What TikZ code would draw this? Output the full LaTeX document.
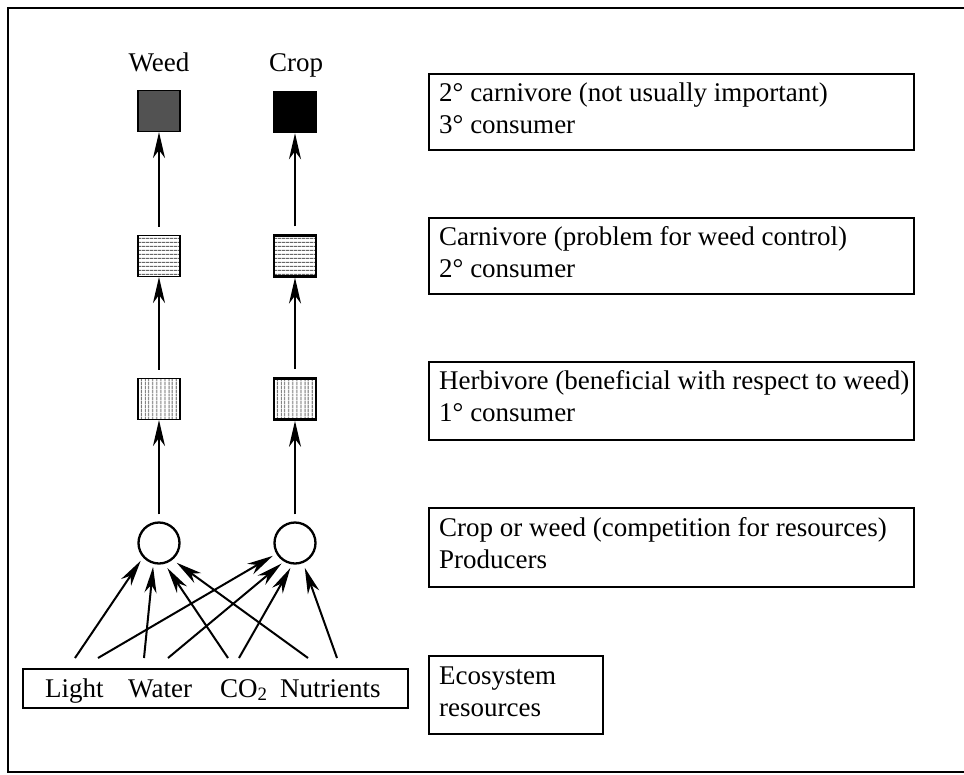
\documentclass[tikz,border=0pt]{standalone}
\usepackage{fontspec}
\setmainfont{Liberation Serif}
\usetikzlibrary{arrows.meta,patterns.meta}
\begin{document}
\begin{tikzpicture}[x=1pt,y=-1pt,
  txt/.style={anchor=base west, inner sep=0pt, font=\fontsize{27}{32}\selectfont},
  rbox/.style={draw, line width=2.3pt, anchor=north west, inner sep=0pt},
  arr/.style={-{Stealth[length=26pt,width=12pt,inset=8pt]}, line width=2pt},
  sq/.style={draw, minimum width=42pt, minimum height=41pt, inner sep=0pt},
  hz/.style={pattern={Lines[angle=0,distance=4pt,line width=1.1pt]}, pattern color=black!60},
  vt/.style={pattern={Lines[angle=90,distance=4pt,line width=1.1pt]}, pattern color=black!60},
  prod/.style={circle, draw, line width=2.3pt, minimum size=41pt, inner sep=0pt}
]
\useasboundingbox (0,0) rectangle (964,774);
% frame
\draw[line width=2pt] (964,8) -- (8,8) -- (8,772) -- (964,772);

% column labels
\node[anchor=base, inner sep=0pt, font=\fontsize{27}{32}\selectfont] (lw) at (159,71) {Weed};
\node[anchor=base, inner sep=0pt, font=\fontsize{27}{32}\selectfont] (lc) at (296,71) {Crop};

% squares
\node[sq, line width=1.2pt, fill=black!68] (wt) at (159,111) {};
\node[sq, line width=1.5pt, fill=black] (ct) at (295,112) {};
\node[sq, line width=1.3pt, hz] (wm) at (159,256) {};
\node[sq, line width=2.2pt, hz] (cm) at (295,256) {};
\node[sq, line width=1.5pt, vt] (wh) at (159,399) {};
\node[sq, line width=2.7pt, vt] (ch) at (295,399) {};
% producers
\node[prod] (wp) at (159,543) {};
\node[prod] (cp) at (295,543) {};

% vertical arrows
\draw[arr] ([yshift=7pt]wp.north) -- (wh.south);
\draw[arr] ([yshift=7pt]cp.north) -- (ch.south);
\draw[arr] ([yshift=8pt]wh.north) -- (wm.south);
\draw[arr] ([yshift=8pt]ch.north) -- (cm.south);
\draw[arr] ([yshift=8pt]wm.north) -- (wt.south);
\draw[arr] ([yshift=8pt]cm.north) -- (ct.south);

% resources box
\node[rbox, minimum width=385pt, minimum height=39pt] (res) at (22,668) {};
\node[txt] (tl) at (45,697) {Light};
\node[txt] (tw) at (128,697) {Water};
\node[txt] (tc) at (220,697) {CO\textsubscript{2}};
\node[txt] (tn) at (280,697) {Nutrients};

% resource arrow starts
\coordinate (s1) at (75,658);
\coordinate (s2) at (98,658);
\coordinate (s3) at (144,658);
\coordinate (s4) at (168,658);
\coordinate (s5) at (228,658);
\coordinate (s6) at (239,658);
\coordinate (s7) at (308,658);
\coordinate (s8) at (337,658);
\draw[arr, shorten >=4pt] (s1) -- (wp.222);
\draw[arr, shorten >=3pt] (s3) -- (wp.255);
\draw[arr, shorten >=5pt] (s5) -- (wp.285);
\draw[arr, shorten >=5pt] (s7) -- (wp.309);
\draw[arr, shorten >=4pt] (s2) -- (cp.210);
\draw[arr, shorten >=3pt] (s4) -- (cp.239);
\draw[arr, shorten >=4pt] (s6) -- (cp.263);
\draw[arr, shorten >=5pt] (s8) -- (cp.292);

% right-hand boxes
\node[rbox, minimum width=485pt, minimum height=76pt] (b1) at (428,73) {};
\node[txt] (b1a) at (439,101) {2° carnivore (not usually important)};
\node[txt] (b1b) at (439,133) {3° consumer};
\node[rbox, minimum width=485pt, minimum height=76pt] (b2) at (428,217) {};
\node[txt] (b2a) at (439,245) {Carnivore (problem for weed control)};
\node[txt] (b2b) at (439,277) {2° consumer};
\node[rbox, minimum width=485pt, minimum height=78pt] (b3) at (428,361) {};
\node[txt] (b3a) at (439,389) {Herbivore (beneficial with respect to weed)};
\node[txt] (b3b) at (439,421) {1° consumer};
\node[rbox, minimum width=485pt, minimum height=79pt] (b4) at (428,507) {};
\node[txt] (b4a) at (439,536) {Crop or weed (competition for resources)};
\node[txt] (b4b) at (439,568) {Producers};
\node[rbox, minimum width=174pt, minimum height=78pt] (b5) at (428,655) {};
\node[txt] (b5a) at (439,684) {Ecosystem};
\node[txt] (b5b) at (439,716) {resources};
\end{tikzpicture}
\end{document}
